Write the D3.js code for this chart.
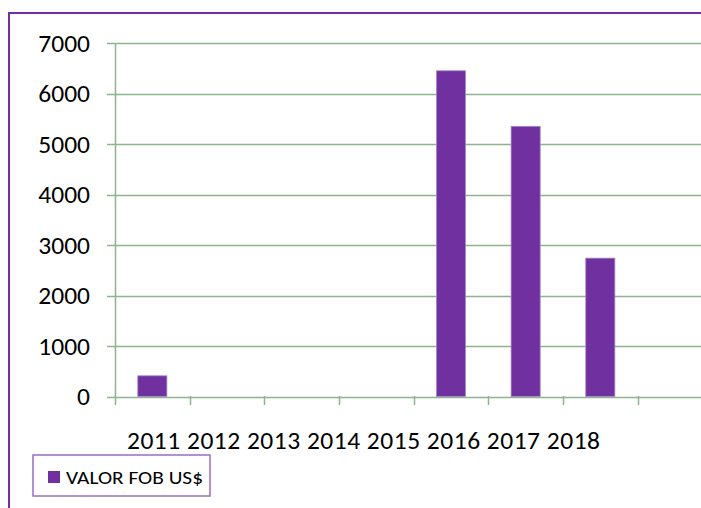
<!DOCTYPE html>
<html><head><meta charset="utf-8">
<script src="https://cdn.jsdelivr.net/npm/d3@7"></script>
<style>
html,body{margin:0;padding:0;background:#fff;overflow:hidden;}
svg{display:block;}
text{font-family:Carlito, Calibri, Lato, sans-serif;fill:#000;font-weight:400;}
</style></head>
<body><svg id="c" width="701" height="508"></svg>
<script>
const categories = ["2011","2012","2013","2014","2015","2016","2017","2018"];
const values = [410, 0, 0, 0, 6450, 5350, 2740, 0];
const yTicks = [0,1000,2000,3000,4000,5000,6000,7000];
const tickLabels = ["2011","2012","2013","2014","2015","2016","2017","2018"];
const seriesName = "VALOR FOB US$";

const purple = "#7030A0";
const grid = "#8db58d";
const svg = d3.select("#c");

// outer chart border (extends past the window)
svg.append("rect").attr("x",9).attr("y",13).attr("width",800).attr("height",600)
  .attr("fill","none").attr("stroke",purple).attr("stroke-width",2);

const y = d3.scaleLinear().domain([0,7000]).range([396.5,43]);
const x = d3.scaleBand().domain(categories).range([115,712.3]).paddingInner(0.61).paddingOuter(0.305);
const xb = d3.scaleBand().domain(categories).range([115,712.3]);

// gridlines
svg.append("g").selectAll("line").data(yTicks).join("line")
  .attr("x1",107).attr("x2",712).attr("y1",d=>Math.round(y(d))+0.5).attr("y2",d=>Math.round(y(d))+0.5)
  .attr("stroke",grid).attr("stroke-width",1.5);

// y axis line
svg.append("line").attr("x1",115.5).attr("x2",115.5).attr("y1",43).attr("y2",405)
  .attr("stroke",grid).attr("stroke-width",1.5);

// x ticks
svg.append("g").selectAll("line").data(categories.slice(1).concat(["end"])).join("line")
  .attr("x1",(d,i)=>Math.round(xb(categories[0])+xb.bandwidth()*(i+1))+0.5)
  .attr("x2",(d,i)=>Math.round(xb(categories[0])+xb.bandwidth()*(i+1))+0.5)
  .attr("y1",396).attr("y2",405).attr("stroke",grid).attr("stroke-width",1.5);

// y labels
svg.append("g").selectAll("text").data(yTicks).join("text")
  .attr("x",90).attr("y",d=>y(d)+8.5).attr("text-anchor","end")
  .attr("font-size",25.5).text(d=>d);

// bars
svg.append("g").selectAll("rect").data(values).join("rect")
  .attr("x",(d,i)=>x(categories[i])).attr("width",x.bandwidth())
  .attr("y",d=>y(d)).attr("height",d=>y(0)-y(d))
  .attr("fill",purple).attr("stroke","#a88bc9").attr("stroke-width",0.8)
  .attr("display",d=>d>0?null:"none");

// x category labels (single line)
svg.append("text").attr("x",127).attr("y",449).attr("font-size",25.5)
  .attr("textLength",473).attr("lengthAdjust","spacing")
  .text(tickLabels.join(" "));

// legend
const lg = svg.append("g");
lg.append("rect").attr("x",33).attr("y",455).attr("width",177).attr("height",41)
  .attr("fill","#fff").attr("stroke","#9b6cc4").attr("stroke-width",1.5);
lg.append("rect").attr("x",48).attr("y",471).attr("width",12).attr("height",12).attr("fill",purple);
lg.append("text").attr("x",66).attr("y",484).attr("font-size",19)
  .attr("textLength",137).attr("lengthAdjust","spacingAndGlyphs").text(seriesName);
</script></body></html>
